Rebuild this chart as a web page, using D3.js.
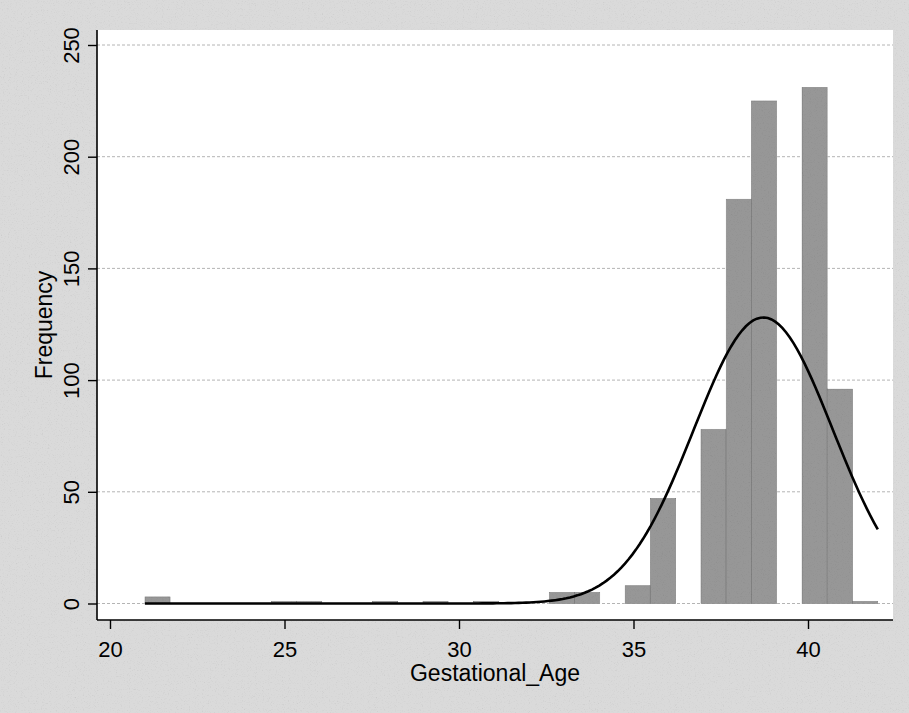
<!DOCTYPE html>
<html>
<head>
<meta charset="utf-8">
<script src="https://cdn.jsdelivr.net/npm/d3@7"></script>
<style>
  html, body { margin: 0; padding: 0; background: #d3d3d3; }
  svg { display: block; }
  text { font-family: "Liberation Sans", Arial, sans-serif; fill: #000; }
</style>
</head>
<body>
<svg id="chart" width="909" height="713"></svg>
<script>
// Gestational age (weeks) and number of births observed at each age
const ages   = [21, 25, 26, 28, 29, 31, 33, 34, 35, 36, 37, 38, 39, 40, 41, 42];
const counts = [ 3,  1,  1,  1,  1,  1,  5,  5,  8, 47, 78, 181, 225, 231, 96, 1];

// Histogram settings and axis ticks
const binCount = 29;
const xTicks = [20, 25, 30, 35, 40];
const yTicks = [0, 50, 100, 150, 200, 250];
const xTitle = "Gestational_Age";
const yTitle = "Frequency";

const W = 909, H = 713;
const plot = { left: 97, right: 893, top: 30, bottom: 620 };

const svg = d3.select("#chart");

// Print-like grain used on the grey background and the bars
const defs = svg.append("defs");
const grain = defs.append("filter").attr("id", "grain")
  .attr("x", 0).attr("y", 0).attr("width", "100%").attr("height", "100%")
  .attr("filterUnits", "objectBoundingBox");
grain.append("feTurbulence").attr("type", "fractalNoise").attr("baseFrequency", 0.85)
  .attr("numOctaves", 2).attr("seed", 7).attr("result", "n");
grain.append("feColorMatrix").attr("in", "n").attr("type", "matrix")
  .attr("values", "0.33 0.33 0.33 0 0  0.33 0.33 0.33 0 0  0.33 0.33 0.33 0 0  0 0 0 0 1")
  .attr("result", "g");
const ct = grain.append("feComponentTransfer").attr("in", "g").attr("result", "gs");
["feFuncR", "feFuncG", "feFuncB"].forEach(f =>
  ct.append(f).attr("type", "linear").attr("slope", 0.55).attr("intercept", 0.74));
grain.append("feBlend").attr("in", "SourceGraphic").attr("in2", "gs").attr("mode", "multiply").attr("result", "b");
grain.append("feComposite").attr("in", "b").attr("in2", "SourceGraphic").attr("operator", "in");

const x = d3.scaleLinear().domain([20, 40]).range([110, 808]);
const y = d3.scaleLinear().domain([0, 250]).range([603.5, 45]);

// Bins span the observed range, split into equal widths
const lo = d3.min(ages), hi = d3.max(ages);
const binW = (hi - lo) / binCount;
const bins = d3.range(binCount).map(i => ({ x0: lo + i * binW, x1: lo + (i + 1) * binW, n: 0 }));
ages.forEach((a, i) => {
  const k = Math.min(binCount - 1, Math.floor((a - lo) / binW + 1e-9));
  bins[k].n += counts[i];
});

// Normal density fitted to the same observations, scaled to frequency
const N = d3.sum(counts);
const mean = d3.sum(ages, (a, i) => a * counts[i]) / N;
const sd = Math.sqrt(d3.sum(ages, (a, i) => counts[i] * (a - mean) ** 2) / (N - 1));
const normal = v => N * binW * Math.exp(-0.5 * ((v - mean) / sd) ** 2) / (sd * Math.sqrt(2 * Math.PI));

// Outer background and white plot region
svg.append("rect").attr("width", W).attr("height", H).attr("fill", "#dadada")
  .attr("filter", "url(#grain)");
svg.append("rect")
  .attr("x", plot.left).attr("y", plot.top)
  .attr("width", plot.right - plot.left).attr("height", plot.bottom - plot.top)
  .attr("fill", "#ffffff");

// Horizontal gridlines
svg.append("g").selectAll("line").data(yTicks).join("line")
  .attr("x1", plot.left).attr("x2", plot.right)
  .attr("y1", d => y(d)).attr("y2", d => y(d))
  .attr("stroke", "#b4b4b4").attr("stroke-width", 1)
  .attr("stroke-dasharray", "3,2");

// Histogram bars
svg.append("g").attr("filter", "url(#grain)")
  .selectAll("rect").data(bins.filter(b => b.n > 0)).join("rect")
  .attr("x", d => x(d.x0))
  .attr("width", d => x(d.x1) - x(d.x0))
  .attr("y", d => y(d.n))
  .attr("height", d => y(0) - y(d.n))
  .attr("fill", "#979797")
  .attr("stroke", "#7a7a7a")
  .attr("stroke-width", 0.8);

// Fitted normal curve
const curveX = d3.range(0, 201).map(i => lo + (hi - lo) * i / 200);
svg.append("path")
  .datum(curveX)
  .attr("d", d3.line().x(v => x(v)).y(v => y(normal(v))).curve(d3.curveLinear))
  .attr("fill", "none")
  .attr("stroke", "#000")
  .attr("stroke-width", 2.6);

// Axes
const xAxis = d3.axisBottom(x).tickValues(xTicks).tickSize(9).tickPadding(4);
const gx = svg.append("g").attr("transform", `translate(0,${plot.bottom})`).call(xAxis);
gx.select(".domain").remove();
gx.append("line").attr("x1", plot.left).attr("x2", plot.right).attr("stroke", "#000").attr("stroke-width", 1.6);
gx.selectAll(".tick line").attr("stroke", "#000").attr("stroke-width", 1.4);
gx.selectAll(".tick text").attr("font-size", 22).attr("font-family", "Liberation Sans, Arial, sans-serif")
  .attr("dy", null).attr("y", 37).attr("fill", "#000");

const yAxis = d3.axisLeft(y).tickValues(yTicks).tickSize(9);
const gy = svg.append("g").attr("transform", `translate(${plot.left},0)`).call(yAxis);
gy.select(".domain").remove();
gy.append("line").attr("y1", plot.top).attr("y2", plot.bottom).attr("stroke", "#000").attr("stroke-width", 1.6);
gy.selectAll(".tick line").attr("stroke", "#000").attr("stroke-width", 1.4);
gy.selectAll(".tick text")
  .attr("font-size", 22).attr("font-family", "Liberation Sans, Arial, sans-serif")
  .attr("x", null).attr("dy", null).attr("fill", "#000")
  .attr("text-anchor", "middle")
  .attr("transform", "translate(-18,0) rotate(-90)");

// Axis titles
svg.append("text")
  .attr("x", (plot.left + plot.right) / 2).attr("y", 681)
  .attr("text-anchor", "middle").attr("font-size", 23)
  .text(xTitle);
svg.append("text")
  .attr("transform", `translate(52,${(plot.top + plot.bottom) / 2}) rotate(-90)`)
  .attr("text-anchor", "middle").attr("font-size", 23)
  .text(yTitle);
</script>
</body>
</html>
